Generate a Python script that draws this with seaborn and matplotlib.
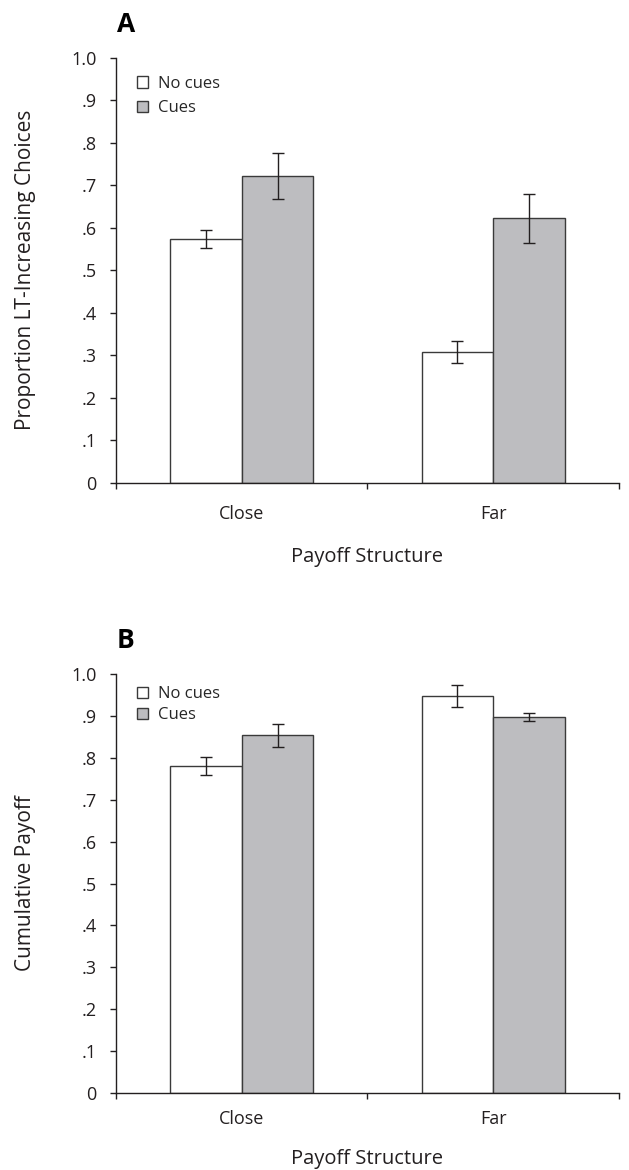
import pandas as pd
import matplotlib.pyplot as plt
import seaborn as sns

# -----------------------------------
# DATA
# -----------------------------------

categories = ["Close", "Far"]
cue_levels = ["No cues", "Cues"]

# panel A: proportion of LT-increasing choices
a_no_cues = [0.574, 0.308]
a_cues = [0.722, 0.622]
a_no_cues_err = [0.021, 0.026]
a_cues_err = [0.054, 0.057]

# panel B: cumulative payoff
b_no_cues = [0.780, 0.948]
b_cues = [0.854, 0.897]
b_no_cues_err = [0.021, 0.026]
b_cues_err = [0.027, 0.010]

y_ticks = [0, 0.1, 0.2, 0.3, 0.4, 0.5, 0.6, 0.7, 0.8, 0.9, 1.0]
y_tick_labels = ["0", ".1", ".2", ".3", ".4", ".5", ".6", ".7", ".8", ".9", "1.0"]

# -----------------------------------
# STYLE
# -----------------------------------

sns.set_style("ticks")
plt.rcParams["font.family"] = ["Open Sans", "DejaVu Sans"]

palette = {"No cues": "white", "Cues": "#bcbdc1"}
edge = "#3a3a3a"
ink = "#231f20"


def draw_panel(ax, no_cues, cues, no_cues_err, cues_err, ylabel,
               legend_y, legend_gap, xpad, xlabel_y):
    df = pd.DataFrame({
        "structure": categories * 2,
        "cue": [cue_levels[0]] * 2 + [cue_levels[1]] * 2,
        "value": no_cues + cues,
    })
    sns.barplot(data=df, x="structure", y="value", hue="cue",
                hue_order=cue_levels, order=categories, palette=palette,
                width=0.57, edgecolor=edge, linewidth=1.0,
                errorbar=None, ax=ax)

    # error bars on top of the bars
    for container, vals, errs in zip(ax.containers, [no_cues, cues], [no_cues_err, cues_err]):
        xs = [b.get_x() + b.get_width() / 2 for b in container]
        ax.errorbar(xs, vals, yerr=errs, fmt="none", ecolor=ink,
                    elinewidth=1.0, capsize=4, capthick=1.0)

    ax.set_xlim(-0.5, 1.5)
    ax.set_ylim(0, 1.0)
    ax.set_yticks(y_ticks)
    ax.set_yticklabels(y_tick_labels)
    ax.set_xticks([-0.5, 0.5, 1.5], minor=True)
    ax.tick_params(axis="x", which="major", length=0, pad=xpad, labelsize=13, colors=ink)
    ax.tick_params(axis="x", which="minor", length=4, width=1, color=ink)
    ax.tick_params(axis="y", length=4, width=1, pad=10, labelsize=13, colors=ink)

    ax.set_xlabel("Payoff Structure", fontsize=14.5, color=ink)
    ax.xaxis.set_label_coords(0.5, xlabel_y)
    ax.set_ylabel(ylabel, fontsize=15, color=ink)
    ax.yaxis.set_label_coords(-0.16, 0.5)
    sns.despine(ax=ax)
    for s in ["left", "bottom"]:
        ax.spines[s].set_color(ink)
        ax.spines[s].set_linewidth(1.0)

    ax.legend(loc="upper left", bbox_to_anchor=(0.028, legend_y), frameon=False,
              fontsize=12, handlelength=0.66, handleheight=0.66,
              handletextpad=0.6, labelspacing=legend_gap, borderaxespad=0)


# -----------------------------------
# FIGURE
# -----------------------------------

fig = plt.figure(figsize=(6.29, 11.7), dpi=100)

ax_a = fig.add_axes([0.1844, 0.5874, 0.7997, 0.3632])
draw_panel(ax_a, a_no_cues, a_cues, a_no_cues_err, a_cues_err,
           "Proportion LT-Increasing Choices", 0.973, 0.5, 16, -0.152)

ax_b = fig.add_axes([0.1844, 0.0658, 0.7997, 0.3581])
draw_panel(ax_b, b_no_cues, b_cues, b_no_cues_err, b_cues_err,
           "Cumulative Payoff", 0.987, 0.32, 12.5, -0.134)

fig.text(0.186, 0.9726, "A", fontsize=19, fontweight="bold", va="baseline", color="black")
fig.text(0.186, 0.4462, "B", fontsize=19, fontweight="bold", va="baseline", color="black")

fig.savefig("out.png", dpi=100)
